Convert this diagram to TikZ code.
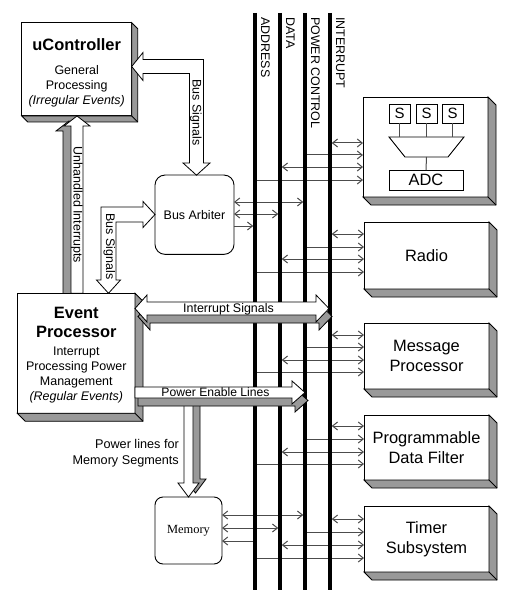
\documentclass[tikz,border=0pt]{standalone}
\usepackage{fontspec}
\setmainfont{Liberation Sans}
\newfontfamily\memserif{Liberation Serif}
\usetikzlibrary{arrows.meta,calc}
\newcommand\myfsmall{\fontsize{12.5}{15}\selectfont}
\newcommand\myfbig{\fontsize{16.5}{20}\selectfont}
\newcommand\myshadow[2]{%
  \filldraw[shade3d] (#1.north east) -- ($(#1.north east)+(#2,#2)$) -- ($(#1.south east)+(#2,#2)$) -- ($(#1.south west)+(#2,#2)$) -- (#1.south west) -- (#1.south east) -- cycle;
  \draw[edge3d] (#1.south east) -- ($(#1.south east)+(#2,#2)$);}
\newcommand\fourconn[5]{%
  \draw[conn,<->,shorten <=1.8bp] (busI |- 0,#2) -- (#1.west |- 0,#2);
  \draw[conn,->] (busP |- 0,#3) -- (#1.west |- 0,#3);
  \draw[conn,<->,shorten <=1.8bp] (busD |- 0,#4) -- (#1.west |- 0,#4);
  \draw[conn,->] (busA |- 0,#5) -- (#1.west |- 0,#5);}
\begin{document}
\begin{tikzpicture}[x=1bp,y=-1bp,
  >={Straight Barb[length=5bp,width=8bp]},
  box/.style={draw=black, line width=0.9bp, fill=white, inner sep=0pt, outer sep=0pt},
  pbox/.style={box, minimum width=125bp, align=center, font=\myfbig},
  shade3d/.style={fill=gray!80, draw=black, line width=0.8bp, line join=miter},
  edge3d/.style={draw=black, line width=0.8bp},
  conn/.style={draw=black!70, line width=1bp},
  inner/.style={draw=black!70, line width=1bp},
  bus/.style={line width=3.6bp, draw=black},
  buslabel/.style={rotate=-90, anchor=base west, inner sep=0pt, font=\myfsmall},
  vlabel/.style={rotate=-90, anchor=base, inner sep=0pt, font=\myfsmall},
  fatface/.style={fill=white, draw=black, line width=0.8bp, line join=miter},
  fatside/.style={fill=gray!80, draw=black, line width=0.8bp, line join=miter},
  txt/.style={inner sep=0pt, font=\myfsmall}]
\fill[white] (0,0) rectangle (506,594);
\useasboundingbox (0,0) rectangle (506,594);

% uController
\node[box, minimum width=110bp, minimum height=93.3bp] (uc) at (76.7,69.3) {};
\myshadow{uc}{6}

% Unhandled Interrupts (3D arrow)
\foreach \st/\dx/\dy in {fatside/-8/5, fatface/0/0}
  \filldraw[\st, shift={(\dx,\dy)}] (77,116) -- (90,126) -- (83,126) -- (83,293.3) -- (71,293.3) -- (71,126) -- (64,126) -- cycle;
\node[vlabel] (unh) at (73.7,205) {Unhandled Interrupts};

% Event Processor
\node[box, minimum width=117.7bp, minimum height=120bp] (ep) at (76.2,353.3) {};
\myshadow{ep}{8}

% Bus Arbiter and Memory
\node[box, rounded corners=10bp, minimum width=79bp, minimum height=79.3bp, font=\myfsmall] (ba) at (194.5,214.7) {Bus Arbiter};
\node[box, rounded corners=8bp, minimum width=67bp, minimum height=67bp, font=\memserif\myfsmall] (mem) at (188.5,530.5) {Memory};

% Bus Signals (upper, flat)
\filldraw[fatface] (131.7,66.5) -- (143,52.5) -- (143,59.5) -- (203.5,59.5) -- (203.5,163) -- (210,163) -- (196.5,175.2) -- (183,163) -- (189.5,163) -- (189.5,73.5) -- (143,73.5) -- (143,80.5) -- cycle;
\node[vlabel] (bs1) at (192.7,112.5) {Bus Signals};

% Bus Signals (lower, flat)
\filldraw[fatface] (108.5,293.3) -- (96.5,280) -- (101,280) -- (101,207) -- (143,207) -- (143,201.5) -- (155,214.5) -- (143,227.5) -- (143,222) -- (116,222) -- (116,280) -- (120.5,280) -- cycle;
\node[vlabel] (bs2) at (106,246.5) {Bus Signals};

% Peripheral boxes
\node[pbox, minimum height=100bp] (adcbox) at (425.5,147) {};
\myshadow{adcbox}{8}
\node[pbox, minimum height=67bp] (radio) at (426.5,255.5) {Radio};
\myshadow{radio}{8}
\node[pbox, minimum height=66bp] (msg) at (426.5,356) {Message\\Processor};
\myshadow{msg}{8}
\node[pbox, minimum height=65bp] (pdf) at (426.5,447.5) {Programmable\\Data Filter};
\myshadow{pdf}{8}
\node[pbox, minimum height=66bp] (timer) at (426.5,539) {Timer\\Subsystem};
\myshadow{timer}{8}

% ADC internals
\node[box, minimum width=21bp, minimum height=19bp, font=\fontsize{15}{18}\selectfont] (s1) at (399.5,113.5) {S};
\node[box, minimum width=21bp, minimum height=19bp, font=\fontsize{15}{18}\selectfont] (s2) at (426.5,113.5) {S};
\node[box, minimum width=21bp, minimum height=19bp, font=\fontsize{15}{18}\selectfont] (s3) at (452.5,113.5) {S};
\coordinate (mtl) at (389,137);
\coordinate (mtr) at (464,137);
\coordinate (mbr) at (448,157);
\coordinate (mbl) at (405,157);
\coordinate (mbot) at (426.5,157);
\draw[line width=0.9bp] (mtl) -- (mtr) -- (mbr) -- (mbl) -- cycle;
\node[box, minimum width=74bp, minimum height=20bp, font=\myfbig] (adc) at (426,180) {ADC};
\draw[inner] (s1.south) -- (s1.south |- mtl);
\draw[inner] (s2.south) -- (s2.south |- mtl);
\draw[inner] (s3.south) -- (s3.south |- mtl);
\draw[inner] (mbot) -- (adc.north);

% Bus coordinates
\coordinate (busA) at (255,13);
\coordinate (busD) at (280,13);
\coordinate (busP) at (305,13);
\coordinate (busI) at (330,13);

% Connectors
\fourconn{adcbox}{143}{155}{167}{180}
\fourconn{radio}{234}{247}{259}{272}
\fourconn{msg}{335}{347}{360}{372}
\fourconn{pdf}{426}{439}{452}{464}
\fourconn{timer}{519}{532}{545}{558}
\draw[conn,<->,shorten >=1.8bp] (ba.east |- 0,202) -- (busP |- 0,202);
\draw[conn,<->,shorten >=1.8bp] (ba.east |- 0,214) -- (busD |- 0,214);
\draw[conn,->,shorten >=1.8bp] (ba.east |- 0,226) -- (busA |- 0,226);
\draw[conn,<->,shorten >=1.8bp] (mem.east |- 0,515) -- (busP |- 0,515);
\draw[conn,<->,shorten >=1.8bp] (mem.east |- 0,528) -- (busD |- 0,528);
\draw[conn,->] (busA |- 0,541) -- (mem.east |- 0,541);

% Bus lines
\draw[bus] (busA) -- (busA |- 0,590);
\draw[bus] (busD) -- (busD |- 0,590);
\draw[bus] (busP) -- (busP |- 0,590);
\draw[bus] (busI) -- (busI |- 0,590);
\node[buslabel] (lA) at (261,17) {ADDRESS};
\node[buslabel] (lD) at (286,17) {DATA};
\node[buslabel] (lP) at (311,17) {POWER CONTROL};
\node[buslabel] (lI) at (336,17) {INTERRUPT};

% Power lines for memory (3D)
\foreach \st/\dx/\dy in {fatside/7/-4, fatface/0/0}
  \filldraw[\st, shift={(\dx,\dy)}] (184,398) -- (193,398) -- (193,483) -- (199,483) -- (188.5,497) -- (178,483) -- (184,483) -- cycle;

% Power Enable Lines (3D)
\foreach \st/\dx/\dy in {fatside/3/8, fatface/0/0}
  \filldraw[\st, shift={(\dx,\dy)}] (135,387) -- (292,387) -- (292,381) -- (305,392.5) -- (292,404) -- (292,398) -- (135,398) -- cycle;
\node[txt, anchor=base, font=\fontsize{12.2}{15}\selectfont] (pel) at (215.5,396.3) {Power Enable Lines};

% Interrupt Signals (3D)
\foreach \st/\dx/\dy in {fatside/3/8, fatface/0/0}
  \filldraw[\st, shift={(\dx,\dy)}] (135,308.5) -- (147,295) -- (147,302) -- (316,302) -- (316,295) -- (329,308.5) -- (316,322) -- (316,315) -- (147,315) -- (147,322) -- cycle;
\node[txt, anchor=base] (isl) at (228.5,312.5) {Interrupt Signals};

% Texts
\node[txt, anchor=north, align=center] (uct) at (76.7,38) {{\myfbig\bfseries uController}\\[9.3bp]General\\Processing\\\itshape (Irregular Events)};
\node[txt, anchor=north, align=center] (ept) at (76.3,306.7) {{\myfbig\bfseries Event}\\[4.5bp]{\myfbig\bfseries Processor}\\[3.2bp]Interrupt\\Processing Power\\Management\\\itshape (Regular Events)};
\node[txt, anchor=north east, align=right, font=\fontsize{12.7}{16}\selectfont] (plt) at (179,438.8) {Power lines for\\Memory Segments};
\end{tikzpicture}
\end{document}
